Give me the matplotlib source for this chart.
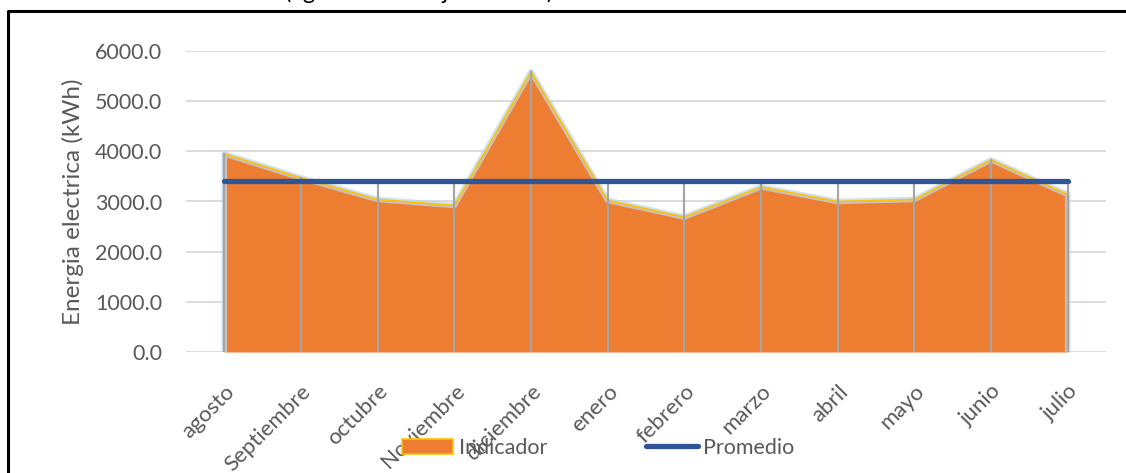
import matplotlib as mpl
import matplotlib.pyplot as plt
from matplotlib.lines import Line2D
from matplotlib.patches import Patch

mpl.rcParams['font.family'] = ['Lato', 'DejaVu Sans']

meses = ['agosto', 'Septiembre', 'octubre', 'Noviembre', 'diciembre', 'enero',
         'febrero', 'marzo', 'abril', 'mayo', 'junio', 'julio']
indicador = [3950, 3470, 3040, 2920, 5590, 3020, 2690, 3290, 3000, 3040, 3830, 3140]
promedio = [3415] * 12
yticks = [0, 1000, 2000, 3000, 4000, 5000, 6000]

gris_txt = '#595959'
naranja = '#ED7D31'
amarillo = '#FFC000'
azul = '#2F5597'

W, H = 1126, 473
fig = plt.figure(figsize=(W / 100, H / 100), dpi=100)
# axes placed in pixel units of the reference
ax = fig.add_axes([186 / W, (H - 352) / H, 920 / W, 301 / H])

x = list(range(len(meses)))

# area + light blue glow around its outline
ax.fill_between(x, indicador, 0, color=naranja, lw=0, zorder=2)
ox = [0] + x + [x[-1]]
oy = [0] + indicador + [0]
ax.plot(ox, oy, color='#BDD7EE', lw=4, alpha=0.75, zorder=2.5,
        solid_joinstyle='round', solid_capstyle='butt')
ax.plot(x, indicador, color=amarillo, lw=1.2, zorder=3)

# drop lines
for xi, v, p in zip(x, indicador, promedio):
    ax.plot([xi, xi], [0, max(v, p)], color='#A5A5A5', lw=1.6, zorder=3.5)

ax.plot(x, promedio, color=azul, lw=3.8, solid_capstyle='round', zorder=4)

ax.set_xlim(-0.5, len(meses) - 0.5)
ax.set_ylim(0, 6000)
ax.set_yticks(yticks)
ax.set_yticklabels([f'{v:.1f}' for v in yticks])
ax.set_xticks(x)
ax.set_xticklabels(meses, rotation=45, ha='right', rotation_mode='anchor')
ax.tick_params(axis='both', length=0, labelcolor=gris_txt)
ax.tick_params(axis='y', pad=17, labelsize=15.5)
ax.tick_params(axis='x', pad=21, labelsize=16)
ax.grid(axis='y', color='#D9D9D9', lw=1.3, zorder=1)
ax.set_axisbelow(True)
for s in ax.spines.values():
    s.set_visible(False)

fig.text(73 / W, (H - 202) / H, 'Energia electrica (kWh)', rotation=90,
         ha='center', va='center', fontsize=17.5, color=gris_txt)

# title, mostly cut off by the top of the image
fig.text(285 / W, (H + 1) / H, '(agosto 2018 - julio 2019)', ha='left',
         va='baseline', fontsize=17, color='black')

# frame lines (left and top)
fig.add_artist(Line2D([8 / W, 8 / W, 1], [0, (H - 11) / H, (H - 11) / H],
                      color='black', lw=2.2, transform=fig.transFigure))

handles = [Patch(facecolor=naranja, edgecolor=amarillo, lw=1.2),
           Line2D([0], [0], color=azul, lw=3.8, solid_capstyle='round')]
leg = fig.legend(handles, ['Indicador', 'Promedio'], loc='center',
                 bbox_to_anchor=(598 / W, 25 / H), ncol=2, frameon=False,
                 fontsize=15.5, handlelength=2.4, handletextpad=0.25,
                 columnspacing=4.6)
for t in leg.get_texts():
    t.set_color(gris_txt)

fig.savefig('out.png', dpi=100)
